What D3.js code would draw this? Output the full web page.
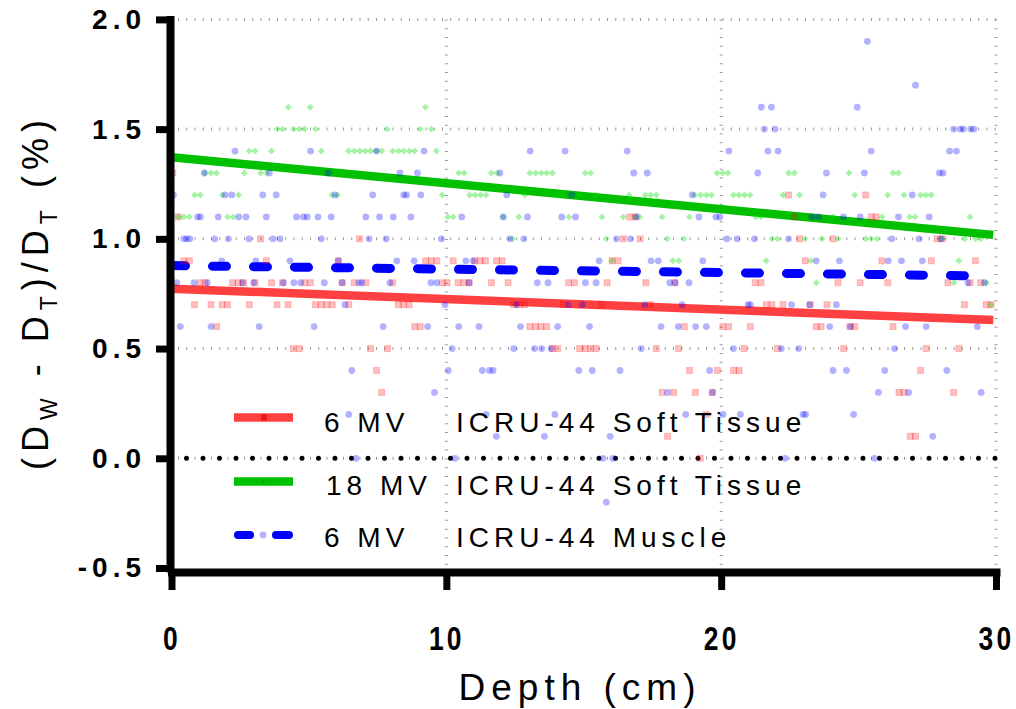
<!DOCTYPE html>
<html>
<head>
<meta charset="utf-8">
<script src="https://cdn.jsdelivr.net/npm/d3@7"></script>
<style>
  body { margin: 0; background: #fff; }
  text { font-family: 'Liberation Sans', Arial, sans-serif; }
</style>
</head>
<body>
<svg id="chart" width="1016" height="709"></svg>
<script>
// axis ticks
const depthTicks = [0, 10, 20, 30]
const valueTicks = [-0.5, 0, 0.5, 1.0, 1.5, 2.0]
const gridValues = [0, 0.5, 1.0, 1.5, 2.0]
const gridDepths = [10, 20, 30]

// fitted lines (depth endpoints, value endpoints)
const fitSoftDepth = [0, 29.9]
const fit6Soft = [0.773, 0.63]
const fit18Soft = [1.372, 1.018]
const fitMuscleDepth = [0, 29]
const fit6Muscle = [0.878, 0.832]

// measured points, grouped by value: [value, [depths...]]
const pts6Soft = [
  [1.3, [0.05]],
  [1.2, [22.45, 25.26]],
  [1.1, [0.25, 16.67, 16.87, 22.67, 25.46, 25.64]],
  [1.0, [3.24, 6.84, 16.44, 17.05, 22.85, 24.07, 27.85, 28.04]],
  [0.9, [0.45, 0.65, 3.45, 6.07, 9.25, 9.45, 9.65, 10.25, 11.04, 11.23, 11.42, 11.83, 12.03, 16.03, 16.25, 23.06, 25.85, 27.65, 29.25]],
  [0.8, [1.04, 1.22, 2.22, 2.42, 2.62, 3.04, 3.64, 4.04, 4.85, 5.05, 6.21, 6.65, 7.07, 8.05, 9.86, 10.03, 10.43, 10.64, 10.83, 11.64, 12.25, 14.45, 14.66, 15.85, 17.26, 18.31, 21.24, 21.45, 24.25, 25.06, 26.06, 28.25, 29.06, 29.44]],
  [0.7, [0.84, 1.44, 1.84, 2.04, 2.83, 3.84, 4.24, 5.24, 5.45, 5.65, 5.85, 6.45, 8.25, 8.45, 8.65, 12.45, 12.65, 12.85, 14.25, 15.64, 17.42, 21.64, 21.85, 22.25, 23.24, 23.85, 28.85, 29.64, 29.82]],
  [0.6, [1.64, 8.85, 9.05, 13.04, 13.25, 13.44, 13.65, 18.66, 20.06, 20.27, 21.06, 23.46, 23.64, 24.68, 24.86, 26.25]],
  [0.5, [4.43, 4.65, 7.24, 7.86, 13.87, 14.05, 14.85, 15.05, 15.25, 15.45, 17.64, 18.45, 20.83, 22.04, 24.46, 27.46, 28.65]],
  [0.4, [7.46, 18.85, 19.86, 20.45, 20.65, 27.26]],
  [0.3, [7.65, 17.85, 18.27, 19.06, 19.67, 26.47, 26.65, 28.46]],
  [0.2, [19.46]],
  [0.1, [18.05, 26.88, 27.07]],
  [0.0, [19.24]]
]

const pts18Soft = [
  [1.6, [4.25, 5.05, 9.24]],
  [1.5, [3.85, 4.04, 4.44, 4.65, 4.85, 5.24, 7.85, 9.05, 9.45]],
  [1.4, [2.83, 3.04, 3.64, 5.45, 6.44, 6.65, 6.85, 7.05, 7.24, 7.45, 7.65, 8.05, 8.26, 8.45, 8.66, 8.85, 9.64]],
  [1.3, [1.22, 1.44, 1.64, 2.65, 3.24, 3.46, 6.25, 10.45, 10.65, 11.64, 11.85, 13.04, 13.25, 13.46, 13.65, 13.86, 15.05, 15.25, 19.85, 20.05, 20.25, 22.45, 22.66, 24.65, 26.25, 26.45]],
  [1.2, [0.84, 1.05, 1.85, 2.44, 5.84, 6.04, 9.85, 10.85, 11.05, 11.25, 11.45, 12.85, 14.03, 14.25, 14.56, 14.83, 15.44, 16.65, 17.24, 17.44, 17.64, 19.03, 19.25, 19.46, 19.65, 20.45, 20.65, 20.85, 21.05, 22.25, 22.85, 24.86, 26.06, 26.65, 27.25, 27.45, 27.65]],
  [1.1, [0.25, 0.45, 0.65, 2.04, 2.25, 10.05, 10.25, 12.07, 12.64, 14.46, 15.66, 16.44, 16.87, 17.04, 17.85, 18.85, 21.26, 21.45, 24.07, 25.86, 26.86, 27.06, 29.06]],
  [1.0, [0.0, 12.41, 15.82, 18.04, 18.64, 21.85, 22.05, 23.05, 23.66, 24.25, 25.26, 25.46, 25.67, 28.04, 28.86, 29.25, 29.45]],
  [0.9, [16.03, 18.24, 18.46, 21.64, 23.27, 28.65]],
  [0.8, [23.46, 28.47, 29.65]],
  [0.7, [29.82]]
]

const pts6Muscle = [
  [1.9, [25.32]],
  [1.7, [27.07]],
  [1.6, [21.46, 21.83, 24.95]],
  [1.5, [21.57, 21.96, 28.46, 28.7, 28.81, 29.08, 29.2]],
  [1.4, [2.31, 5.06, 7.46, 9.19, 13.05, 14.32, 16.58, 20.28, 21.7, 22.07, 25.46, 28.31, 28.56]],
  [1.3, [1.19, 3.56, 5.7, 8.31, 8.95, 11.95, 16.82, 17.31, 21.33, 23.83, 25.21, 27.94, 28.07]],
  [1.2, [0.07, 1.95, 2.19, 3.32, 3.81, 5.95, 7.32, 8.45, 8.55, 9.07, 12.2, 14.56, 18.95, 23.71, 26.95]],
  [1.1, [0.95, 1.05, 1.7, 2.45, 2.71, 3.45, 4.55, 4.8, 4.94, 5.33, 5.81, 7.07, 7.57, 8.07, 8.71, 10.56, 12.07, 12.95, 14.2, 14.7, 16.91, 19.19, 19.81, 19.95, 23.3, 23.55, 24.45, 25.06, 26.45, 27.57]],
  [1.0, [0.45, 0.55, 0.67, 1.57, 2.07, 2.82, 3.7, 3.95, 5.45, 7.19, 7.81, 9.82, 12.31, 12.82, 16.19, 16.7, 20.21, 20.58, 21.21, 22.45, 26.21, 27.2, 28.0]],
  [0.9, [1.83, 3.07, 4.31, 6.07, 8.2, 8.83, 10.71, 10.98, 15.56, 17.45, 17.71, 19.33, 23.46, 24.3, 26.08, 26.56, 27.32]],
  [0.8, [0.19, 0.82, 1.3, 2.58, 2.99, 4.07, 4.45, 4.7, 5.56, 6.21, 6.82, 6.92, 7.95, 9.44, 9.65, 10.83, 13.31, 13.7, 15.06, 15.45, 18.13, 18.33, 18.83, 28.98, 29.58]],
  [0.7, [6.31, 9.95, 12.55, 14.44, 14.95, 17.21, 18.58, 20.98, 21.06, 22.56, 23.22, 24.19]],
  [0.6, [0.32, 1.44, 3.19, 5.19, 7.7, 9.32, 10.45, 11.19, 12.7, 14.05, 15.21, 17.81, 18.44, 19.07, 19.46, 23.95, 24.71, 26.71, 27.46, 29.32]],
  [0.5, [10.21, 12.45, 13.21, 13.47, 13.81, 17.09, 20.45, 22.19, 22.82, 26.31]],
  [0.4, [6.56, 10.07, 11.31, 11.57, 11.7, 14.82, 15.31, 16.32, 19.58, 24.07, 24.56, 25.95, 28.21]],
  [0.3, [9.57, 18.05, 19.69, 25.72, 26.82, 29.46]],
  [0.2, [6.45, 11.45, 13.95, 18.71, 20.07, 20.7, 22.98, 23.07, 24.82]],
  [0.1, [11.82, 13.57, 15.96, 27.7]],
  [0.0, [6.71, 10.31, 15.7, 16.06, 22.33, 25.58]],
  [-0.2, [15.82]]
]

const energies = ['6 MV', '18 MV', '6 MV']
const materials = ['ICRU-44 Soft Tissue', 'ICRU-44 Soft Tissue', 'ICRU-44 Muscle']

const flatten = (rows) => rows.flatMap(([v, ds]) => ds.map((d) => ({ d, v })))

const svg = d3.select('#chart')

// scales
const xScale = d3.scaleLinear().domain([0, 30]).range([171.5, 996])
const yScale = d3.scaleLinear().domain([-0.5, 2.0]).range([568, 19.4])

// grid: small gray ticks along dotted lines
svg.append('g')
  .selectAll('line')
  .data(gridValues)
  .join('line')
  .attr('x1', xScale(0))
  .attr('x2', xScale(30))
  .attr('y1', (d) => yScale(d))
  .attr('y2', (d) => yScale(d))
  .attr('stroke', '#999')
  .attr('stroke-width', 3)
  .attr('stroke-dasharray', '1 7.25')
  .attr('stroke-dashoffset', -6.5)

svg.append('g')
  .selectAll('line')
  .data(gridDepths)
  .join('line')
  .attr('x1', (d) => xScale(d))
  .attr('x2', (d) => xScale(d))
  .attr('y1', yScale(2.0))
  .attr('y2', yScale(-0.5))
  .attr('stroke', '#999')
  .attr('stroke-width', 3)
  .attr('stroke-dasharray', '1 7.78')

// zero line, black dots
svg.append('line')
  .attr('x1', xScale(0) - 1.5)
  .attr('x2', xScale(30))
  .attr('y1', yScale(0))
  .attr('y2', yScale(0))
  .attr('stroke', '#000')
  .attr('stroke-width', 5)
  .attr('stroke-linecap', 'round')
  .attr('stroke-dasharray', '0 16.5')
  .attr('stroke-dashoffset', -16.5)

// fitted lines
const line = d3.line().x((d) => xScale(d[0])).y((d) => yScale(d[1]))

svg.append('path')
  .attr('d', line(d3.zip(fitSoftDepth, fit6Soft)))
  .attr('stroke', '#ff4040')
  .attr('stroke-width', 8.5)
  .attr('fill', 'none')

svg.append('path')
  .attr('d', line(d3.zip(fitSoftDepth, fit18Soft)))
  .attr('stroke', '#00c000')
  .attr('stroke-width', 8.5)
  .attr('fill', 'none')

svg.append('path')
  .attr('d', line(d3.zip(fitMuscleDepth, fit6Muscle)))
  .attr('stroke', '#0000ff')
  .attr('stroke-width', 9)
  .attr('stroke-linecap', 'round')
  .attr('stroke-dasharray', '14 27')
  .attr('fill', 'none')

// points
svg.append('g')
  .selectAll('rect')
  .data(flatten(pts6Soft))
  .join('rect')
  .attr('x', (d) => xScale(d.d) - 3)
  .attr('y', (d) => yScale(d.v) - 3)
  .attr('width', 6)
  .attr('height', 6)
  .attr('fill', '#ff0000')
  .attr('fill-opacity', 0.25)
  .attr('stroke', '#ff0000')
  .attr('stroke-opacity', 0.2)

const diamond = d3.symbol(d3.symbolSquare, 24)

svg.append('g')
  .selectAll('path')
  .data(flatten(pts18Soft))
  .join('path')
  .attr('d', diamond)
  .attr('transform', (d) => `translate(${xScale(d.d)},${yScale(d.v)}) rotate(45)`)
  .attr('fill', '#00dd00')
  .attr('fill-opacity', 0.35)

svg.append('g')
  .selectAll('circle')
  .data(flatten(pts6Muscle))
  .join('circle')
  .attr('cx', (d) => xScale(d.d))
  .attr('cy', (d) => yScale(d.v))
  .attr('r', 3.4)
  .attr('fill', '#0000ff')
  .attr('fill-opacity', 0.3)

// axes
const yAxis = d3.axisLeft(yScale)
  .tickValues(valueTicks)
  .tickFormat((d) => d.toFixed(1)) // plain hyphen for the minus sign
  .tickSize(14)
  .tickSizeOuter(0)
  .tickPadding(10)

const xAxis = d3.axisBottom(xScale)
  .tickValues(depthTicks)
  .tickFormat(d3.format('d'))
  .tickSize(18)
  .tickSizeOuter(0)
  .tickPadding(37)

const gy = svg.append('g')
  .attr('transform', `translate(${xScale(0) - 1.5},0)`)
  .call(yAxis)

const gx = svg.append('g')
  .attr('transform', `translate(0,${yScale(-0.5) + 4})`)
  .call(xAxis)

for (const g of [gy, gx]) {
  g.select('.domain')
    .attr('stroke-width', 8)
    .attr('stroke-linecap', 'square')
  g.selectAll('.tick line').attr('stroke-width', 7)
  g.selectAll('.tick text')
    .attr('font-family', "'Liberation Sans', Arial, sans-serif")
    .attr('font-weight', 'bold')
    .attr('fill', '#000')
}
gy.selectAll('.tick text')
  .attr('font-size', 28)
  .attr('letter-spacing', 5)

// depth labels look condensed in the original
gx.selectAll('.tick text')
  .attr('font-size', 33)
  .attr('letter-spacing', 4)
  .style('transform', 'scaleX(0.8)')
  .style('transform-box', 'fill-box')
  .style('transform-origin', 'center')

// axis titles
svg.append('text')
  .attr('x', 580)
  .attr('y', 700)
  .attr('text-anchor', 'middle')
  .attr('font-size', 37)
  .attr('letter-spacing', 6)
  .text('Depth (cm)')

const yTitle = svg.append('text')
  .attr('transform', 'translate(48,292) rotate(-90)')
  .attr('text-anchor', 'middle')
  .attr('font-size', 36)
  .attr('letter-spacing', 6)

const titleParts = [
  ['(D', false], ['W', true], [' - D', false], ['T', true], [')/D', false], ['T', true], [' (%)', false]
]
titleParts.forEach(([t, sub], i) => {
  const prevSub = i > 0 && titleParts[i - 1][1]
  yTitle.append('tspan')
    .attr('font-size', sub ? 23 : 36)
    .attr('dy', sub ? 9 : prevSub ? -9 : 0)
    .text(t)
})

// legend
const legendLineY = [417.5, 481.5, 535]
const legendTextY = [431.7, 495, 546.7]
const legend = svg.append('g')

legend.append('line')
  .attr('x1', 234).attr('x2', 293)
  .attr('y1', legendLineY[0]).attr('y2', legendLineY[0])
  .attr('stroke', '#ff4040').attr('stroke-width', 8.5)
legend.append('rect')
  .attr('x', 261).attr('y', legendLineY[0] - 3)
  .attr('width', 6).attr('height', 6)
  .attr('fill', '#e00000').attr('fill-opacity', 0.6)

legend.append('line')
  .attr('x1', 234).attr('x2', 293)
  .attr('y1', legendLineY[1]).attr('y2', legendLineY[1])
  .attr('stroke', '#00c000').attr('stroke-width', 8.5)
legend.append('path')
  .attr('d', d3.symbol(d3.symbolSquare, 12)())
  .attr('transform', `translate(263,${legendLineY[1]}) rotate(45)`)
  .attr('fill', '#009900').attr('fill-opacity', 0.6)

legend.append('line')
  .attr('x1', 238).attr('x2', 250)
  .attr('y1', legendLineY[2]).attr('y2', legendLineY[2])
  .attr('stroke', '#0000ff').attr('stroke-width', 8).attr('stroke-linecap', 'round')
legend.append('line')
  .attr('x1', 276).attr('x2', 289)
  .attr('y1', legendLineY[2]).attr('y2', legendLineY[2])
  .attr('stroke', '#0000ff').attr('stroke-width', 8).attr('stroke-linecap', 'round')
legend.append('circle')
  .attr('cx', 263).attr('cy', legendLineY[2]).attr('r', 3.4)
  .attr('fill', '#0000ff').attr('fill-opacity', 0.3)

legend.selectAll('.energy')
  .data(energies)
  .join('text')
  .attr('class', 'energy')
  .attr('x', (d) => (d === '18 MV' ? 326 : 324))
  .attr('y', (d, i) => legendTextY[i])
  .attr('font-size', 28)
  .attr('letter-spacing', 5)
  .text((d) => d)

legend.selectAll('.material')
  .data(materials)
  .join('text')
  .attr('class', 'material')
  .attr('x', 456)
  .attr('y', (d, i) => legendTextY[i])
  .attr('font-size', 28)
  .attr('letter-spacing', 5)
  .text((d) => d)
</script>
</body>
</html>
